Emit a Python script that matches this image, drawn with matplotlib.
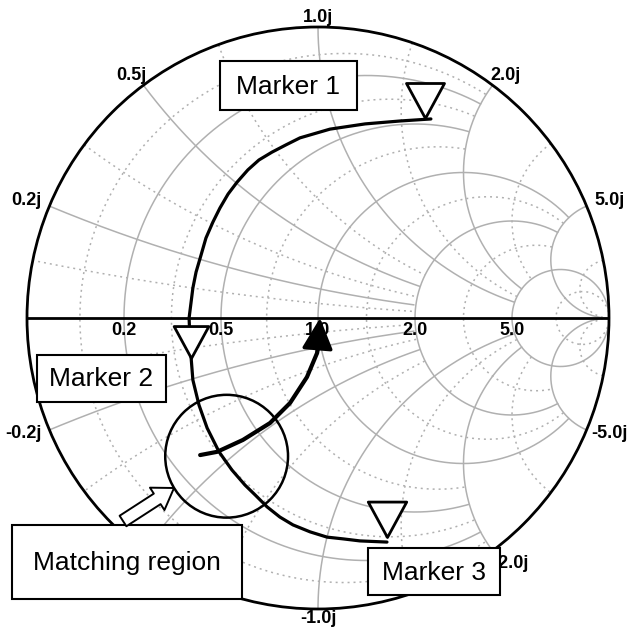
import numpy as np
import matplotlib
matplotlib.use("Agg")
import matplotlib.pyplot as plt
from matplotlib.patches import Circle, Rectangle, FancyArrowPatch, ArrowStyle
from matplotlib.path import Path

plt.rcParams['font.family'] = ['Liberation Sans', 'DejaVu Sans']

# ---------------- data ----------------
# Smith chart grid values (normalised impedance)
grid_solid_r = [0.2, 0.5, 1.0, 2.0, 5.0]
grid_solid_r_xlim = [2, 2, 5, 5, np.inf]
grid_dotted_r = [0.1, 0.33, 0.7, 1.4, 3.0, 10.0]
grid_dotted_r_xlim = [2, 2, 2, 5, 5, np.inf]
grid_solid_x = [0.2, 0.5, 1.0, 2.0, 5.0]
grid_solid_x_rlim = [2, 2, 5, 5, np.inf]
grid_dotted_x = [0.1, 0.33, 0.7, 1.4, 3.0, 10.0]
grid_dotted_x_rlim = [2, 2, 2, 5, 5, np.inf]

r_labels = ["0.2", "0.5", "1.0", "2.0", "5.0"]
r_label_values = [0.2, 0.5, 1.0, 2.0, 5.0]
x_labels = ["1.0j", "0.5j", "2.0j", "0.2j", "5.0j", "-0.2j", "-5.0j", "-2.0j", "-1.0j"]
x_label_values = [1.0, 0.5, 2.0, 0.2, 5.0, -0.2, -5.0, -2.0, -1.0]

# measured trace (reflection coefficient, real / imag)
sweep_re = [0.388, 0.282, 0.162, 0.041, -0.062, -0.110, -0.158, -0.203, -0.241,
            -0.278, -0.309, -0.337, -0.361, -0.385, -0.402, -0.419, -0.430,
            -0.443, -0.440, -0.436, -0.430, -0.409, -0.381, -0.340, -0.296,
            -0.251, -0.216, -0.175, -0.131, -0.086, -0.027, 0.031, 0.086,
            0.144, 0.237]
sweep_im = [0.684, 0.677, 0.667, 0.649, 0.619, 0.595, 0.570, 0.543, 0.509,
            0.467, 0.426, 0.378, 0.330, 0.275, 0.216, 0.158, 0.103,
            0.000, -0.076, -0.137, -0.213, -0.299, -0.378, -0.460, -0.522,
            -0.574, -0.608, -0.649, -0.684, -0.711, -0.735, -0.753, -0.759,
            -0.766, -0.770]

# matching path to the centre (reflection coefficient)
match_re = [-0.405, -0.347, -0.258, -0.165, -0.096, -0.038, -0.003, 0.007, 0.007]
match_im = [-0.471, -0.460, -0.419, -0.361, -0.292, -0.203, -0.120, -0.065, 0.0]

# markers (reflection coefficient)
marker_re = [0.368, -0.437, 0.237]
marker_im = [0.687, -0.138, -0.753]
marker_names = ["Marker 1", "Marker 2", "Marker 3"]

# matching region circle
region_center = (-0.314, -0.475)
region_radius = 0.211

# ---------------- layout ----------------
W, H, DPI = 632, 636, 100
CX, CY, R = 318.0, 318.0, 291.0


def px(x, y):
    return ((x - CX) / R, (CY - y) / R)


fig = plt.figure(figsize=(W / DPI, H / DPI), dpi=DPI)
ax = fig.add_axes([0, 0, 1, 1])
ax.set_xlim(-CX / R, (W - CX) / R)
ax.set_ylim((CY - H) / R, CY / R)
ax.axis('off')

phi = np.linspace(0, 2 * np.pi, 3000)
GRAY = '#b0b0b0'


def r_circle(r, xmax):
    g = r / (1 + r) + (1 / (1 + r)) * np.exp(1j * phi)
    with np.errstate(all='ignore'):
        z = (1 + g) / (1 - g)
    bad = ~np.isfinite(z) | (np.abs(z.imag) > xmax)
    return np.where(bad, np.nan, g.real), np.where(bad, np.nan, g.imag)


def x_arc(x, rmax):
    g = (1 + 1j / x) + (1 / abs(x)) * np.exp(1j * phi)
    with np.errstate(all='ignore'):
        z = (1 + g) / (1 - g)
    bad = ~np.isfinite(z) | (np.abs(g) > 1.0) | (z.real > rmax) | (z.real < 0)
    return np.where(bad, np.nan, g.real), np.where(bad, np.nan, g.imag)


dot_ls = (0, (1.3, 2.6))
for r, lim in zip(grid_dotted_r, grid_dotted_r_xlim):
    xs, ys = r_circle(r, lim)
    ax.plot(xs, ys, color=GRAY, lw=1.1, ls=dot_ls, zorder=1)
for xv, lim in zip(grid_dotted_x, grid_dotted_x_rlim):
    for s in (1, -1):
        xs, ys = x_arc(s * xv, lim)
        ax.plot(xs, ys, color=GRAY, lw=1.1, ls=dot_ls, zorder=1)
for r, lim in zip(grid_solid_r, grid_solid_r_xlim):
    xs, ys = r_circle(r, lim)
    ax.plot(xs, ys, color=GRAY, lw=1.1, zorder=1.2)
for xv, lim in zip(grid_solid_x, grid_solid_x_rlim):
    for s in (1, -1):
        xs, ys = x_arc(s * xv, lim)
        ax.plot(xs, ys, color=GRAY, lw=1.1, zorder=1.2)

# outer circle and real axis
ax.add_patch(Circle((0, 0), 1.0, fill=False, ec='black', lw=2.0, zorder=2))
ax.plot([-1, 1], [0, 0], color='black', lw=2.0, zorder=2, solid_capstyle='butt')

# resistance labels
for lab, r in zip(r_labels, r_label_values):
    ax.annotate(lab, ((r - 1) / (r + 1), 0), xytext=(0, -4), textcoords='offset pixels',
                ha='center', va='top', fontsize=13, fontweight='bold', zorder=2.5)

# reactance labels
label_off = {1.0: (0, 1, 'center', 'bottom'), 0.5: (3, 1, 'right', 'bottom'),
             2.0: (-2, 1, 'left', 'bottom'), 0.2: (-8, -3, 'right', 'bottom'),
             5.0: (8, -3, 'left', 'bottom'), -0.2: (-8, 5, 'right', 'top'),
             -5.0: (5, 5, 'left', 'top'), -2.0: (0, -4, 'left', 'top'),
             -1.0: (0, -1, 'center', 'top')}
for lab, xv in zip(x_labels, x_label_values):
    g = (1j * xv - 1) / (1j * xv + 1)
    dx, dy, ha, va = label_off[xv]
    ax.annotate(lab, (g.real, g.imag), xytext=(dx, dy), textcoords='offset pixels',
                ha=ha, va=va, fontsize=13, fontweight='bold', zorder=2.5)

# sweep trace
ax.plot(sweep_re, sweep_im, color='black', lw=2.3, zorder=3,
        solid_capstyle='round', solid_joinstyle='round')

# matching region circle
ax.add_patch(Circle(region_center, region_radius, fill=False, ec='black', lw=1.8, zorder=3))

# matching path with arrowhead
ax.plot(match_re[:-1], match_im[:-1], color='black', lw=3.0, zorder=4,
        solid_capstyle='round', solid_joinstyle='round')
ax.add_patch(FancyArrowPatch((match_re[-3], match_im[-3]), (match_re[-1], match_im[-1]),
                             arrowstyle=ArrowStyle('-|>', head_length=19.3, head_width=9.6),
                             mutation_scale=1, color='black', lw=2.5,
                             shrinkA=0, shrinkB=0, zorder=4))

# triangle markers (tip at data point)
tri = Path([(-19, 35), (19, 35), (0, 0), (0, 0)],
           [Path.MOVETO, Path.LINETO, Path.LINETO, Path.CLOSEPOLY])
marker_sizes = [50.4, 46, 51]
for mx, my, ms in zip(marker_re, marker_im, marker_sizes):
    ax.plot([mx], [my], marker=tri, ms=ms, mfc='white', mec='black', mew=2.0,
            ls='none', zorder=4.5)

# label boxes (pixel extents in figure)
boxes = [("Marker 1", 220, 61, 357, 110),
         ("Marker 2", 37, 355, 166, 402),
         ("Matching region", 12, 525, 242, 599),
         ("Marker 3", 368, 548, 500, 595)]
for txt, x0, y0, x1, y1 in boxes:
    llx, lly = px(x0, y1)
    ax.add_patch(Rectangle((llx, lly), (x1 - x0) / R, (y1 - y0) / R,
                           fc='white', ec='black', lw=1.5, zorder=5))
    cx, cy = px((x0 + x1) / 2, (y0 + y1) / 2 + 1)
    ax.text(cx, cy, txt, ha='center', va='center', fontsize=19, zorder=6)

# hollow block arrow pointing at the matching region
a0 = px(123, 521)
a1 = px(174, 488)
ax.add_patch(FancyArrowPatch(a0, a1,
                             arrowstyle=ArrowStyle('simple', head_length=1.2, head_width=1.6,
                                                   tail_width=0.75),
                             mutation_scale=12, fc='white', ec='black', lw=1.4,
                             shrinkA=0, shrinkB=0, zorder=6))

fig.savefig('out.png', dpi=DPI, facecolor='white')
